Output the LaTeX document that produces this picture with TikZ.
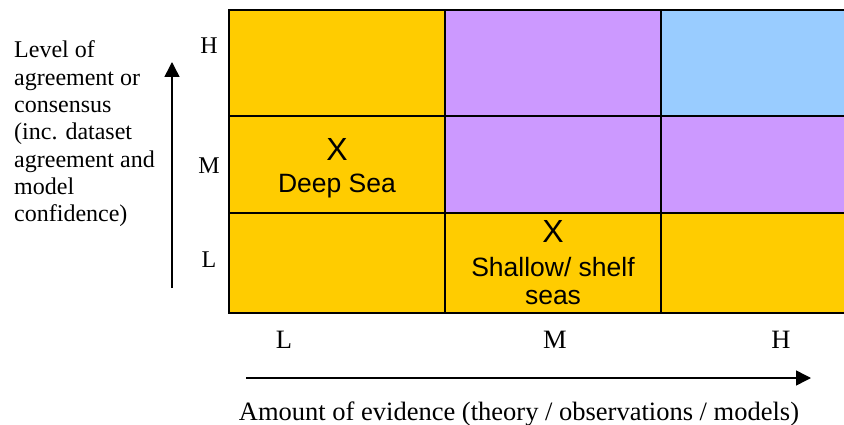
\documentclass[tikz,border=0pt]{standalone}
\usepackage{fontspec}
\setmainfont{Liberation Serif}
\newfontfamily\arialfont{Liberation Sans}
\usetikzlibrary{arrows.meta}
\definecolor{cyellow}{HTML}{FFCC00}
\definecolor{cpurple}{HTML}{CC99FF}
\definecolor{cblue}{HTML}{99CCFF}
\tikzset{
  cell/.style={draw=black, line width=2.2pt},
  lab/.style={inner sep=0pt, font=\fontsize{24}{27.3}\selectfont},
  blab/.style={inner sep=0pt, font=\fontsize{26.5}{30}\selectfont},
  celltext/.style={inner sep=0pt, font=\arialfont\fontsize{26.5}{30}\selectfont, align=center},
  xmark/.style={inner sep=0pt, font=\arialfont\fontsize{32}{32}\selectfont},
  axisarrow/.style={line width=1.5pt, -{Triangle[width=15pt,length=15pt]}}
}
\begin{document}
\begin{tikzpicture}[x=1pt,y=-1pt]
\useasboundingbox (0,0) rectangle (844,425);
% cells
\fill[cyellow] (229,10) rectangle (445,116);
\fill[cpurple] (445,10) rectangle (661,116);
\fill[cblue]   (661,10) rectangle (850,116);
\fill[cyellow] (229,116) rectangle (445,213);
\fill[cpurple] (445,116) rectangle (661,213);
\fill[cpurple] (661,116) rectangle (850,213);
\fill[cyellow] (229,213) rectangle (850,313);
% grid lines
\draw[cell] (850,10) -- (229,10) -- (229,313) -- (850,313);
\draw[cell] (229,116) -- (850,116);
\draw[cell] (229,213) -- (850,213);
\draw[cell] (445,10) -- (445,313);
\draw[cell] (661,10) -- (661,313);
% cell texts
\node[xmark, anchor=base] (x1) at (337,161) {X};
\node[celltext, anchor=base] (deep) at (337,193) {Deep Sea};
\node[xmark, anchor=base] (x2) at (553,243) {X};
\node[celltext, anchor=base] (shallow1) at (553,276) {Shallow/ shelf};
\node[celltext, anchor=base] (shallow2) at (553,304) {seas};
% left axis
\node[lab, anchor=base west] (yl1) at (14,58) {Level of};
\node[lab, anchor=base west] (yl2) at (14,85.3) {agreement or};
\node[lab, anchor=base west] (yl3) at (14,112.6) {consensus};
\node[lab, anchor=base west] (yl4) at (14,139.9) {(inc. dataset};
\node[lab, anchor=base west] (yl5) at (14,167.2) {agreement and};
\node[lab, anchor=base west] (yl6) at (14,194.5) {model};
\node[lab, anchor=base west] (yl7) at (14,221.8) {confidence)};
\coordinate (vbot) at (172,288);
\coordinate (vtop) at (172,62);
\draw[axisarrow] (vbot) -- (vtop);
\node[lab] (yH) at (209,46) {H};
\node[lab] (yM) at (209,166) {M};
\node[lab] (yL) at (209,260) {L};
% bottom axis
\node[blab] (xL) at (284,340) {L};
\node[blab] (xM) at (555,340) {M};
\node[blab] (xH) at (781,340) {H};
\coordinate (hleft) at (246,378);
\coordinate (hright) at (811,378);
\draw[axisarrow] (hleft) -- (hright);
\node[blab, anchor=base] (xlabel) at (519,420) {Amount of evidence (theory / observations / models)};
\end{tikzpicture}
\end{document}
